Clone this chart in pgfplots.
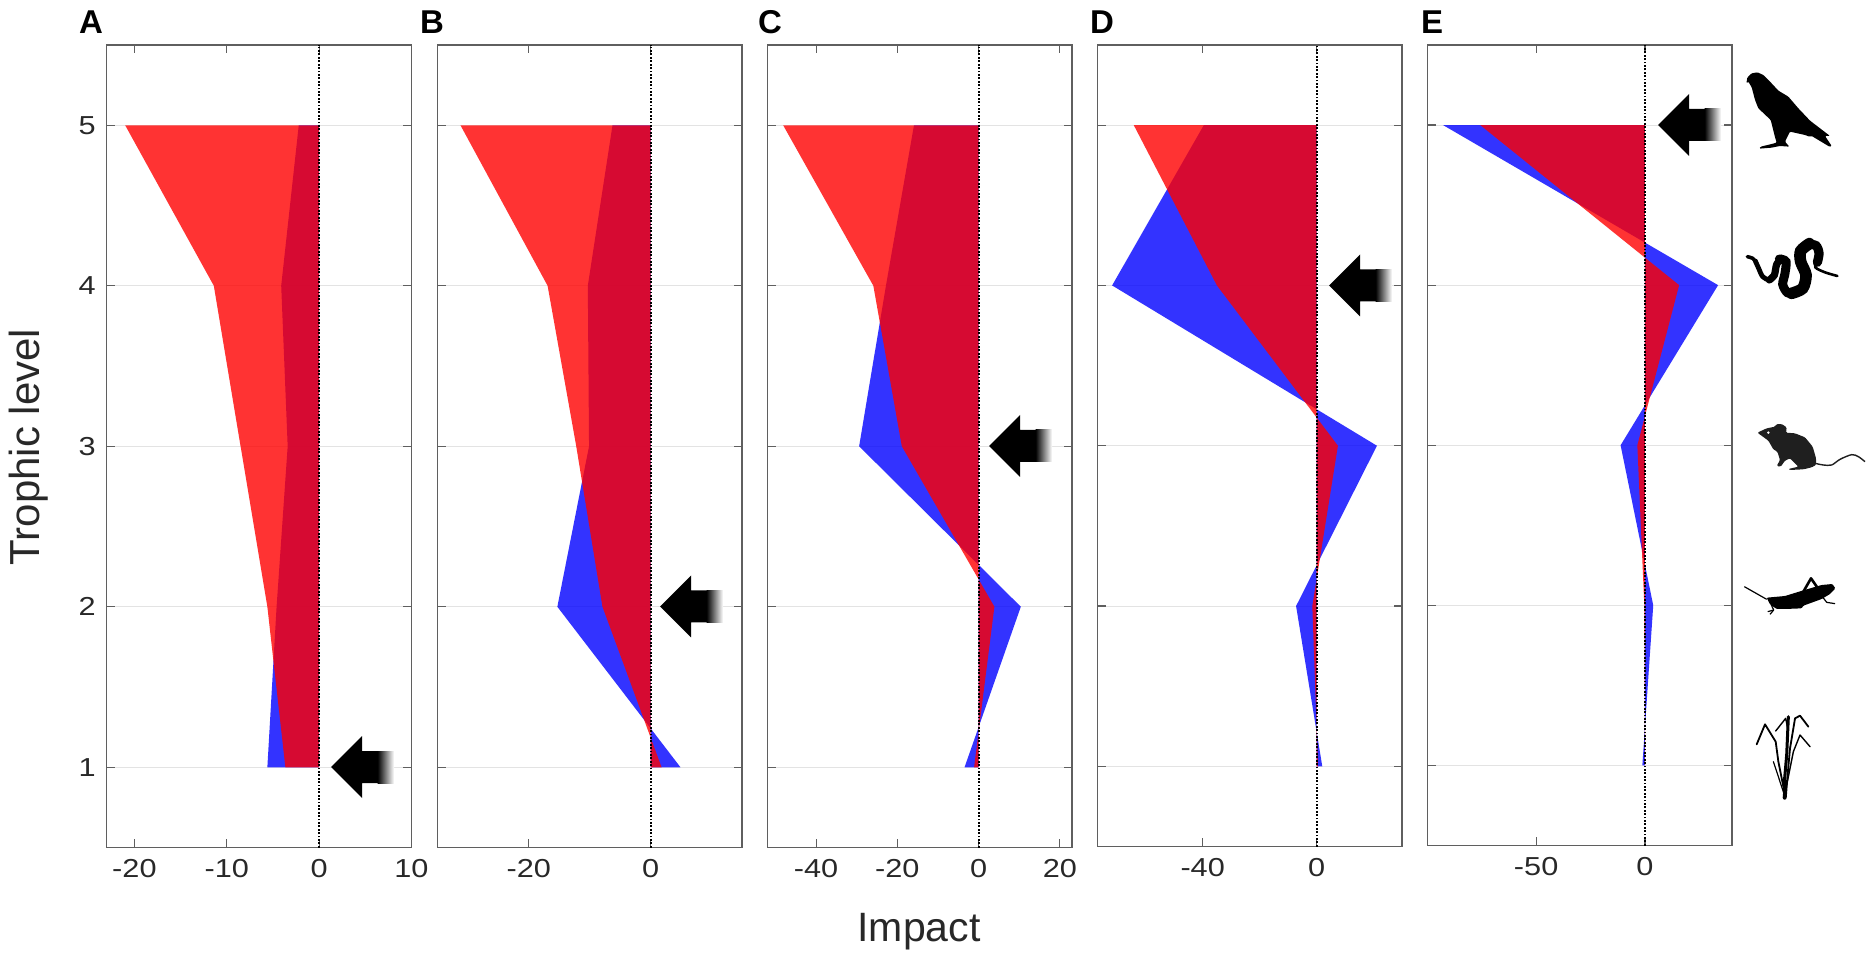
\documentclass[border=0pt]{standalone}
\usepackage{fontspec}
\setmainfont{Liberation Sans}
\newfontfamily\tickfont[FakeStretch=1.18]{Liberation Sans}
\usepackage{pgfplots}
\pgfplotsset{compat=1.18}
\definecolor{framegray}{RGB}{95,95,95}
\definecolor{labelgray}{RGB}{40,40,40}

% every panel: levels 0.5..5.5, 0.5pt = 1 pixel of the reference
\pgfplotsset{panel/.style={
    scale only axis,
    anchor=south west,
    width=152.35pt,
    height=401.25pt,
    ymin=0.5, ymax=5.5,
    ytick={1,2,3,4,5},
    yticklabels={},
    ymajorgrids=true,
    major grid style={gray!22,line width=0.5pt},
    axis line style={framegray,line width=0.55pt},
    major tick length=4.2pt,
    tick style={framegray,line width=0.55pt},
    xticklabel style={font=\tickfont\fontsize{13}{13}\selectfont,text=labelgray,yshift=-2.5pt},
    yticklabel style={font=\tickfont\fontsize{13}{13}\selectfont,text=labelgray,xshift=-2pt},
    every axis plot/.append style={forget plot},
}}
\pgfplotsset{
  bluearea/.style={fill=blue,fill opacity=0.8,draw=none},
  redarea/.style={fill=red,fill opacity=0.8,draw=none},
  zeroline/.style={black,line width=1pt,dash pattern=on 0.9pt off 0.8pt},
}

% arrow in reference pixels: tip x, head base x, y
\newcommand{\markarrow}[3]{%
  \fill[black] (#1,#3) -- (#2,#3-31) -- (#2,#3-16) -- (#2+16,#3-16) -- (#2+16,#3+16) -- (#2,#3+16) -- (#2,#3+31) -- cycle;
  \shade[left color=black,right color=white,draw=none] (#2+15.5,#3-16) rectangle (#2+32,#3+16);
}

\begin{document}
\begin{tikzpicture}
\path[use as bounding box] (0,0) rectangle (935.5pt,479pt);

\begin{axis}[panel,at={(53.35pt,55.25pt)},xmin=-23,xmax=10,
    xtick={-20,-10,0,10},xticklabels={-20,-10,0,10},
    yticklabels={1,2,3,4,5}]
\addplot[bluearea] coordinates {(0,1) (-5.6,1) (-4.6,2) (-3.4,3) (-4.1,4) (-2.2,5) (0,5)};
\addplot[redarea] coordinates {(0,1) (-3.65,1) (-5.6,2) (-8.5,3) (-11.4,4) (-21,5) (0,5)};
\addplot[zeroline] coordinates {(0,0.5) (0,5.5)};
\end{axis}

\begin{axis}[panel,at={(218.65pt,55.25pt)},xmin=-35,xmax=15,
    xtick={-20,0},xticklabels={-20,0}]
\addplot[bluearea] coordinates {(0,1) (4.9,1) (-15.3,2) (-10.1,3) (-10.3,4) (-6.25,5) (0,5)};
\addplot[redarea] coordinates {(0,1) (1.8,1) (-7.9,2) (-12.2,3) (-16.9,4) (-31.2,5) (0,5)};
\addplot[zeroline] coordinates {(0,0.5) (0,5.5)};
\end{axis}

\begin{axis}[panel,at={(383.65pt,55.25pt)},xmin=-52,xmax=23,
    xtick={-40,-20,0,20},xticklabels={-40,-20,0,20}]
\addplot[bluearea] coordinates {(0,1) (-3.45,1) (10.4,2) (-29.4,3) (-22.8,4) (-15.9,5) (0,5)};
\addplot[redarea] coordinates {(0,1) (-1.1,1) (3.9,2) (-18.9,3) (-25.9,4) (-48.1,5) (0,5)};
\addplot[zeroline] coordinates {(0,0.5) (0,5.5)};
\end{axis}

\begin{axis}[panel,at={(548.65pt,55.75pt)},height=400.75pt,xmin=-77,xmax=30,
    xtick={-40,0},xticklabels={-40,0}]
\addplot[bluearea] coordinates {(0,1) (2,1) (-7.2,2) (21.2,3) (-71.8,4) (-39.6,5) (0,5)};
\addplot[redarea] coordinates {(0,1) (0.5,1) (-1.5,2) (7.5,3) (-35,4) (-64.2,5) (0,5)};
\addplot[zeroline] coordinates {(0,0.5) (0,5.5)};
\end{axis}

\begin{axis}[panel,at={(713.65pt,56.25pt)},height=400.25pt,xmin=-100,xmax=40,
    xtick={-50,0},xticklabels={-50,0}]
\addplot[bluearea] coordinates {(0,1) (-1.2,1) (3.8,2) (-11.2,3) (33.6,4) (-92.8,5) (0,5)};
\addplot[redarea] coordinates {(0,1) (0.1,1) (-0.3,2) (-3.5,3) (15.7,4) (-75.7,5) (0,5)};
\addplot[zeroline] coordinates {(0,0.5) (0,5.5)};
\end{axis}

% annotations, in reference pixels
\begin{scope}[x=0.5pt,y=-0.5pt,yshift=479pt]
\markarrow{331}{362}{767}
\markarrow{660}{691}{606.5}
\markarrow{989}{1020}{446}
\markarrow{1329}{1360}{285.5}
\markarrow{1658}{1689}{125}
\foreach \lab/\px in {A/91,B/432,C/770,D/1102,E/1432}
  \node[font=\bfseries\fontsize{16.5}{16.5}\selectfont,text=black] at (\px,22) {\lab};
\node[font=\fontsize{21}{21}\selectfont,text=labelgray,rotate=90] at (29,447) {Trophic level};
\node[font=\fontsize{20.5}{20.5}\selectfont,text=labelgray] at (919,932) {Impact};
\end{scope}

% bird
\begin{scope}[x=0.16667pt,y=-0.16667pt,xshift=865pt,yshift=454pt]
\fill[black,rounded corners=0.5pt] (49,100) -- (52,82) -- (65,70) -- (82,67) -- (100,75) -- (120,95) -- (145,122) -- (175,140) -- (205,175) -- (240,212) -- (300,258) -- (285,258) -- (305,288) -- (300,291) -- (245,258) -- (238,260) -- (225,255) -- (180,245) -- (165,275) -- (178,290) -- (150,288) -- (125,293) -- (88,296) -- (92,290) -- (125,282) -- (140,278) -- (135,262) -- (122,210) -- (85,175) -- (75,150) -- (65,112) -- (55,95) -- cycle;
\end{scope}

% snake
\begin{scope}[x=0.16667pt,y=-0.16667pt,xshift=865pt,yshift=366.5pt,line cap=round]
\draw[black,line width=1.8pt] plot[smooth] coordinates {(52,95) (68,100) (78,112)};
\draw[black,line width=2.4pt] plot[smooth] coordinates {(76,108) (85,128) (98,155) (118,165) (132,155)};
\draw[black,line width=3.6pt] plot[smooth] coordinates {(118,165) (133,150) (140,118) (155,100)};
\draw[black,line width=4.5pt] plot[smooth] coordinates {(148,102) (168,110) (164,150) (158,178) (172,203) (195,205)};
\draw[black,line width=5.8pt] plot[smooth] coordinates {(185,205) (218,190) (228,150) (212,110) (212,78) (238,56)};
\draw[black,line width=4.6pt] plot[smooth] coordinates {(232,57) (258,62) (267,85) (262,112)};
\draw[black,line width=1.3pt] plot[smooth] coordinates {(262,105) (256,127) (285,142) (322,153)};
\end{scope}

% mouse
\begin{scope}[x=0.16667pt,y=-0.16667pt,xshift=870pt,yshift=274pt]
\fill[black!88,rounded corners=0.6pt] (52,68) -- (80,55) -- (105,50) -- (108,43) -- (125,42) -- (140,52) -- (138,68) -- (165,70) -- (195,82) -- (218,110) -- (228,145) -- (228,165) -- (215,172) -- (190,178) -- (150,180) -- (145,177) -- (175,170) -- (150,145) -- (135,152) -- (122,170) -- (110,168) -- (120,150) -- (112,125) -- (100,118) -- (85,92) -- cycle;
\fill[white] (85,68) circle (4);
\draw[black!88,line width=0.7pt] plot[smooth] coordinates {(225,160) (250,165) (275,165) (300,148) (335,134) (355,140) (375,155)};
\end{scope}

% grasshopper
\begin{scope}[x=0.16667pt,y=-0.16667pt,xshift=867.5pt,yshift=196.5pt,line join=round]
\fill[black,rounded corners=0.5pt] (95,98) -- (150,93) -- (205,76) -- (260,60) -- (292,57) -- (301,70) -- (285,87) -- (260,102) -- (205,122) -- (200,130) -- (150,132) -- (125,132) -- (105,118) -- cycle;
\draw[black,line width=0.6pt] (28,65) -- (95,103);
\draw[black,line width=1.3pt] (205,80) -- (228,40) -- (250,72);
\draw[black,line width=0.6pt] (108,118) -- (116,135) -- (105,148);
\draw[black,line width=0.6pt] (116,135) -- (98,140);
\draw[black,line width=0.6pt] (262,95) -- (275,112) -- (300,116);
\end{scope}

% grass
\begin{scope}[x=0.16667pt,y=-0.16667pt,xshift=872.5pt,yshift=126.5pt,line join=round,line cap=round]
\draw[black,line width=1.5pt] (120,275) -- (118,230) -- (125,150) -- (130,35);
\draw[black,line width=0.9pt] (118,260) -- (100,170) -- (92,110) -- (60,58) -- (35,118);
\draw[black,line width=0.9pt] (125,240) -- (135,130) -- (150,40) -- (165,32) -- (190,65);
\draw[black,line width=0.7pt] (125,240) -- (145,140) -- (165,90) -- (195,125);
\draw[black,line width=0.7pt] (125,150) -- (128,70) -- (122,40) -- (92,78);
\draw[black,line width=0.6pt] (118,270) -- (100,215) -- (85,170);
\draw[black,line width=2pt] (119,278) -- (122,240);
\end{scope}
\end{tikzpicture}
\end{document}
